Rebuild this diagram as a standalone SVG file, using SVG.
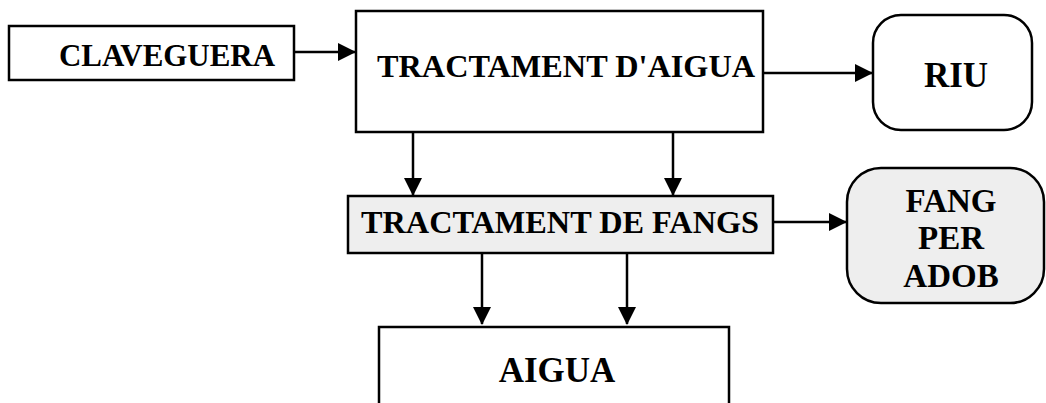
<svg xmlns="http://www.w3.org/2000/svg" width="1046" height="403" viewBox="0 0 1046 403">
<style>
.box{fill:#fff;stroke:#000;stroke-width:2.5}
.grey{fill:#eeeeee;stroke:#000;stroke-width:2.5}
.t{font-family:"Liberation Serif","Times New Roman",serif;font-weight:bold;fill:#000}
.c{stroke:#000;stroke-width:2.5;fill:none;marker-end:url(#ah)}
</style>
<defs>
<marker id="ah" markerUnits="userSpaceOnUse" markerWidth="18" markerHeight="18" refX="17" refY="9" orient="auto">
<path d="M0,0 L18,9 L0,18 z" fill="#000"/>
</marker>
</defs>
<rect width="1046" height="403" fill="#fff"/>
<g id="connectors">
<line class="c" x1="295" y1="52" x2="355" y2="52"/>
<line class="c" x1="763" y1="73" x2="872" y2="73"/>
<line class="c" x1="413" y1="133" x2="413" y2="195"/>
<line class="c" x1="673" y1="133" x2="673" y2="195"/>
<line class="c" x1="773" y1="222" x2="846" y2="222"/>
<line class="c" x1="482" y1="254" x2="482" y2="324"/>
<line class="c" x1="627" y1="254" x2="627" y2="324"/>
</g>
<g id="claveguera">
<rect class="box" x="9" y="26" width="285" height="54"/>
<text class="t" x="59" y="66" font-size="31" textLength="216" lengthAdjust="spacingAndGlyphs">CLAVEGUERA</text>
</g>
<g id="tractament-aigua">
<rect class="box" x="356" y="11" width="407" height="121"/>
<text class="t" x="377" y="77" font-size="32" textLength="378" lengthAdjust="spacingAndGlyphs">TRACTAMENT D'AIGUA</text>
</g>
<g id="riu">
<rect class="box" x="873" y="15" width="159" height="115" rx="28" ry="28"/>
<text class="t" x="956" y="87" font-size="35" text-anchor="middle">RIU</text>
</g>
<g id="tractament-fangs">
<rect class="grey" x="348" y="196" width="425" height="57"/>
<text class="t" x="361" y="233" font-size="32" textLength="398" lengthAdjust="spacingAndGlyphs">TRACTAMENT DE FANGS</text>
</g>
<g id="fang-per-adob">
<rect class="grey" x="847" y="168" width="197" height="135" rx="34" ry="34"/>
<text class="t" font-size="33" text-anchor="middle"><tspan x="951" y="212">FANG</tspan><tspan x="951" y="249">PER</tspan><tspan x="951" y="287">ADOB</tspan></text>
</g>
<g id="aigua">
<rect class="box" x="379" y="327" width="350" height="90"/>
<text class="t" x="557" y="382" font-size="35" text-anchor="middle">AIGUA</text>
</g>
</svg>
